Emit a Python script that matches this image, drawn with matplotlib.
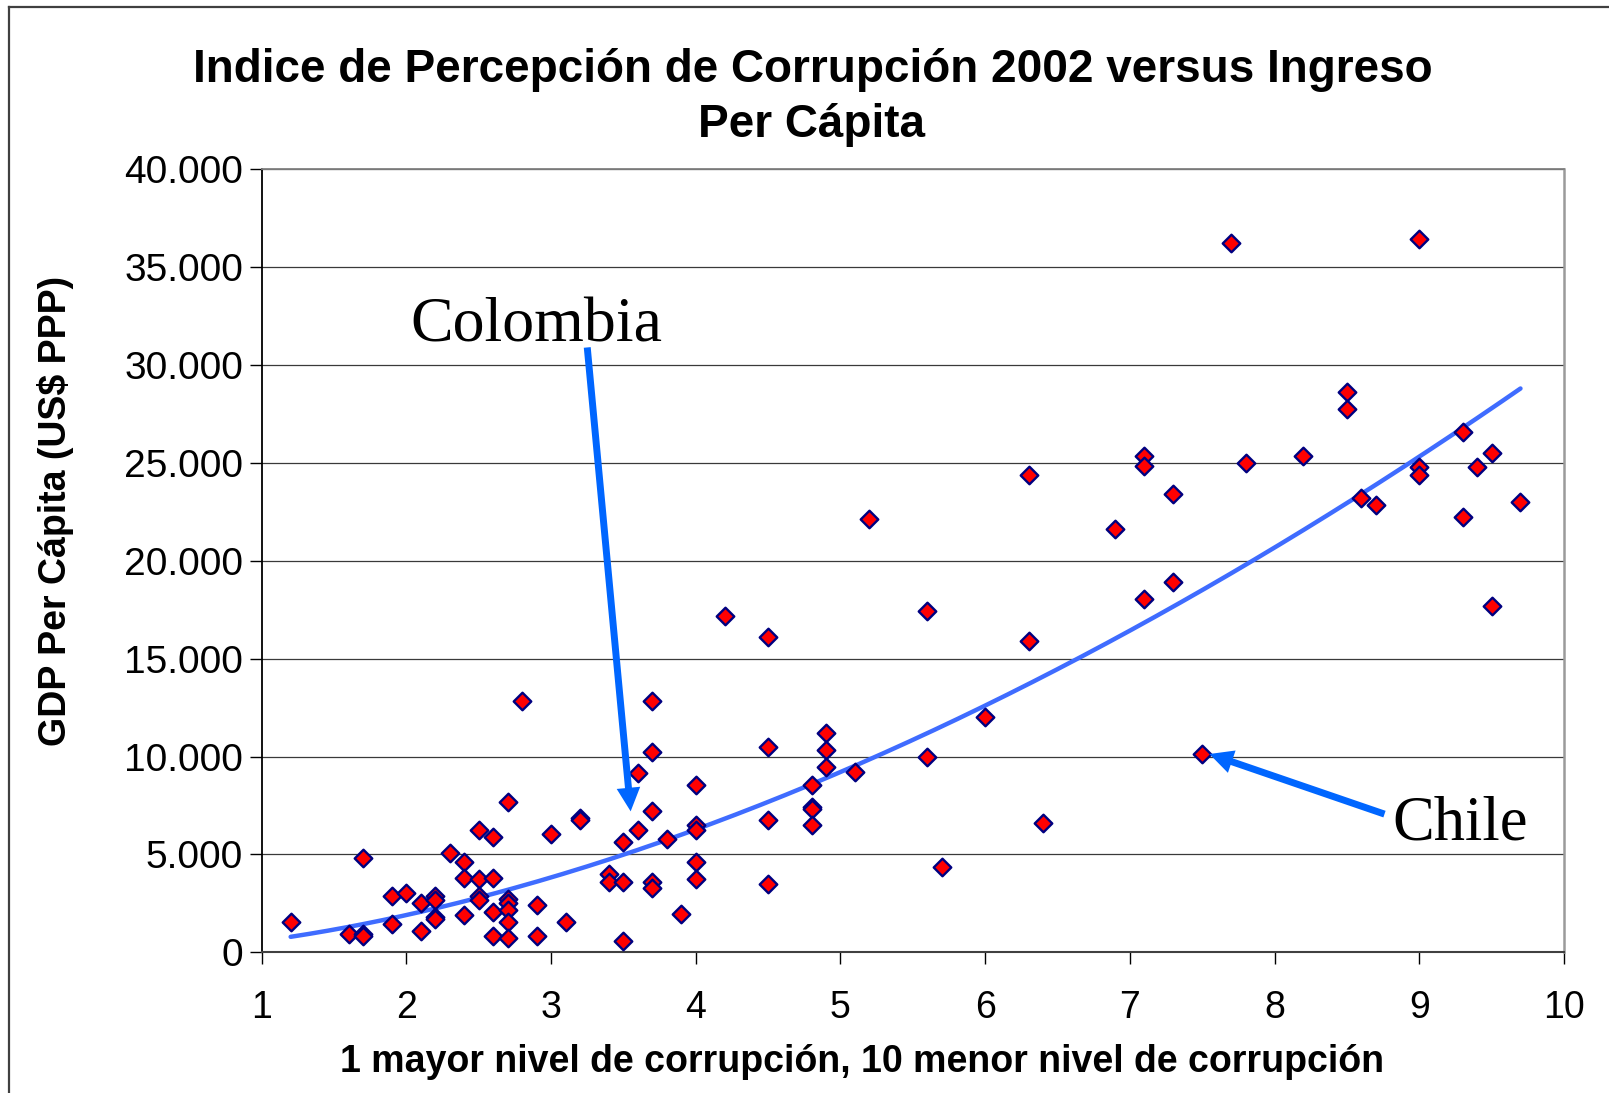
import numpy as np
import matplotlib
matplotlib.use("Agg")
import matplotlib.pyplot as plt
from matplotlib.lines import Line2D
from matplotlib.patches import FancyArrowPatch
from matplotlib.ticker import FuncFormatter

# Corruption perception index 2002 (1 = most corrupt, 10 = least corrupt)
cpi = [
    1.2, 1.6, 1.7, 1.7, 1.7, 1.9, 1.9, 2.0, 2.1, 2.1,
    2.2, 2.2, 2.2, 2.2, 2.3, 2.4, 2.4, 2.4, 2.5, 2.5,
    2.5, 2.5, 2.6, 2.6, 2.6, 2.6, 2.7, 2.7, 2.7, 2.7,
    2.7, 2.7, 2.8, 2.9, 2.9, 3.0, 3.1, 3.2, 3.2, 3.4,
    3.4, 3.5, 3.5, 3.5, 3.6, 3.6, 3.7, 3.7, 3.7, 3.7,
    3.7, 3.8, 3.9, 4.0, 4.0, 4.0, 4.0, 4.0, 4.2, 4.5,
    4.5, 4.5, 4.5, 4.8, 4.8, 4.8, 4.8, 4.9, 4.9, 4.9,
    5.1, 5.2, 5.6, 5.6, 5.7, 6.0, 6.3, 6.3, 6.4, 6.9,
    7.1, 7.1, 7.1, 7.3, 7.3, 7.5, 7.7, 7.8, 8.2, 8.5,
    8.5, 8.6, 8.7, 9.0, 9.0, 9.0, 9.3, 9.3, 9.4, 9.5,
    9.5, 9.7,
]

# GDP per capita (US$ PPP)
gdp = [
    1570, 960, 920, 850, 4800, 2890, 1430, 3010, 2530, 1090,
    2890, 2670, 1820, 1680, 5050, 4590, 3820, 1900, 6240, 3720,
    2900, 2650, 5870, 3820, 2040, 840, 7690, 2700, 2530, 2160,
    1560, 710, 12850, 2410, 840, 6030, 1560, 6880, 6760, 3990,
    3600, 5650, 3600, 590, 9140, 6240, 12850, 10210, 7220, 3570,
    3260, 5790, 1940, 8540, 6500, 6240, 4590, 3720, 17190, 16120,
    10470, 6760, 3490, 8540, 7430, 7300, 6500, 11190, 10330, 9480,
    9230, 22120, 17450, 9990, 4340, 12040, 24400, 15880, 6620, 21630,
    25370, 24860, 18060, 23420, 18900, 10130, 36220, 25000, 25370, 28600,
    27760, 23210, 22860, 36460, 24810, 24400, 26570, 22230, 24780, 25490,
    17700, 22980,
]

x_ticks = [1, 2, 3, 4, 5, 6, 7, 8, 9, 10]
y_ticks = [0, 5000, 10000, 15000, 20000, 25000, 30000, 35000, 40000]

title_lines = ["Indice de Percepción de Corrupción 2002 versus Ingreso", "Per Cápita"]
x_label = "1 mayor nivel de corrupción, 10 menor nivel de corrupción"
y_label = "GDP Per Cápita (US$ PPP)"

# Highlighted countries: label, arrow tail, arrow tip
colombia = {"label": "Colombia", "tail": (3.25, 30900), "tip": (3.55, 7200)}
chile = {"label": "Chile", "tail": (8.76, 7060), "tip": (7.55, 10130)}

W, H = 1609, 1093
fig = plt.figure(figsize=(W / 100, H / 100), dpi=100)
sans = "Liberation Sans"
serif = "Liberation Serif"

left, right, top, bottom = 261.7, 1563.9, 169.3, 952.3
ax = fig.add_axes([left / W, 1 - bottom / H, (right - left) / W, (bottom - top) / H])

x = np.array(cpi)
y = np.array(gdp)

# power trend line fitted in log-log space
slope, intercept = np.polyfit(np.log(x), np.log(y), 1)
xt = np.linspace(x.min(), x.max(), 200)
yt = np.exp(intercept) * xt ** slope
ax.plot(xt, yt, color="#3F6CFF", lw=3.2, zorder=2, solid_capstyle="round")

ax.scatter(x, y, marker="D", s=80, facecolor="#FF0000", edgecolor="#000080",
           linewidths=1.7, zorder=3)

ax.set_xlim(1, 10)
ax.set_ylim(0, 40000)
ax.set_xticks(x_ticks)
ax.set_yticks(y_ticks)
ax.yaxis.set_major_formatter(FuncFormatter(lambda v, p: f"{int(v):,}".replace(",", ".")))
ax.tick_params(axis="both", direction="out", length=8.5, width=1.0, color="#000000")
ax.tick_params(axis="x", pad=19, labelsize=27)
ax.tick_params(axis="y", pad=5, labelsize=28)
for lab in ax.get_xticklabels() + ax.get_yticklabels():
    lab.set_fontfamily(sans)

ax.grid(axis="y", color="#3a3a3a", lw=0.9, zorder=1)
ax.set_axisbelow(True)
ax.spines["left"].set_color("#000000")
ax.spines["left"].set_linewidth(1.3)
ax.spines["bottom"].set_color("#404040")
ax.spines["bottom"].set_linewidth(1.5)
ax.spines["top"].set_color("#808080")
ax.spines["top"].set_linewidth(1.3)
ax.spines["right"].set_color("#9a9a9a")
ax.spines["right"].set_linewidth(1.8)

# titles and axis labels
fig.text(813 / W, 1 - 70 / H, title_lines[0], ha="center", va="center",
         fontsize=33, fontweight="bold", family=sans)
fig.text(812 / W, 1 - 125 / H, title_lines[1], ha="center", va="center",
         fontsize=33, fontweight="bold", family=sans)
fig.text(862 / W, 1 - 1062 / H, x_label, ha="center", va="center",
         fontsize=27, fontweight="bold", family=sans)
fig.text(56 / W, 1 - 511 / H, y_label, ha="center", va="center", rotation=90,
         fontsize=27, fontweight="bold", family=sans)

# country callouts
arrow_color = "#0066FF"
for c in (colombia, chile):
    arr = FancyArrowPatch(c["tail"], c["tip"], transform=ax.transData,
                          arrowstyle="simple,head_length=17,head_width=17,tail_width=5",
                          mutation_scale=1, color=arrow_color, lw=0, zorder=4,
                          shrinkA=0, shrinkB=0)
    ax.add_patch(arr)

fig.text(410 / W, 1 - 341 / H, colombia["label"], ha="left", va="baseline",
         fontsize=46, family=serif)
fig.text(1392 / W, 1 - 839 / H, chile["label"], ha="left", va="baseline",
         fontsize=45, family=serif)

# outer chart frame (left and top edges)
fx = 9 / W
fy = 1 - 7 / H
fig.add_artist(Line2D([fx, fx], [0, fy], transform=fig.transFigure, color="#404040", lw=1.6))
fig.add_artist(Line2D([fx, 1], [fy, fy], transform=fig.transFigure, color="#404040", lw=1.6))

fig.savefig("out.png", dpi=100)
